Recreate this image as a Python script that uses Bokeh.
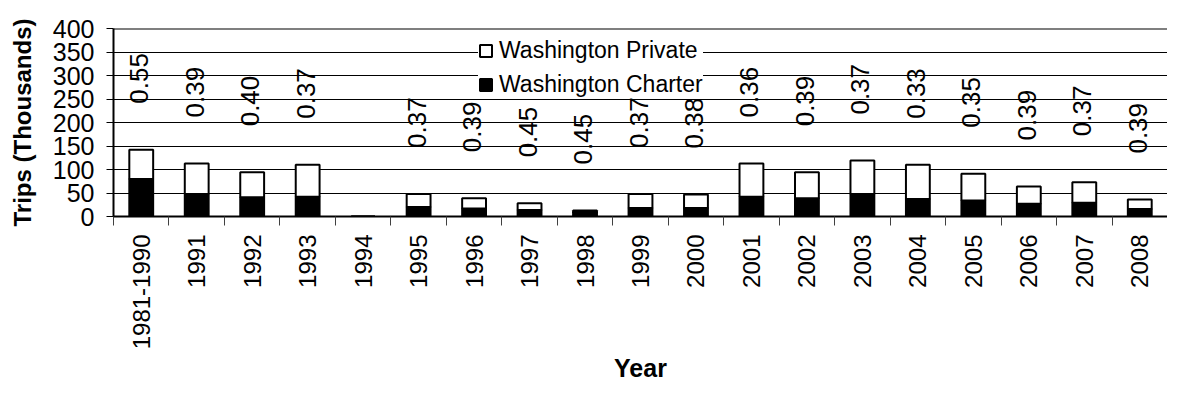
import math
from bokeh.plotting import figure
from bokeh.models import (ColumnDataSource, FixedTicker, Legend, LegendItem,
                          Range1d, Span)
from bokeh.core.properties import value
from bokeh.embed import file_html
from bokeh.resources import INLINE

# ---- data ----
years = ["1981-1990", "1991", "1992", "1993", "1994", "1995", "1996", "1997",
         "1998", "1999", "2000", "2001", "2002", "2003", "2004", "2005",
         "2006", "2007", "2008"]
charter = [80, 48, 41, 42, 0, 20, 17, 14, 9, 18, 18, 42, 39, 48, 37, 34, 27, 29, 16]
private = [62, 65, 53, 68, 0, 28, 22, 14, 4, 30, 29, 71, 55, 71, 73, 57, 37, 44, 20]
ratio = ["0.55", "0.39", "0.40", "0.37", "", "0.37", "0.39", "0.45", "0.45",
         "0.37", "0.38", "0.36", "0.39", "0.37", "0.33", "0.35", "0.39",
         "0.37", "0.39"]
y_ticks = [0, 50, 100, 150, 200, 250, 300, 350, 400]

FONT = "Liberation Sans"
n = len(years)
xs = list(range(n))
totals = [c + p for c, p in zip(charter, private)]

src = ColumnDataSource(dict(x=xs, charter=charter, private=private,
                            top=totals, ratio=ratio))

p = figure(width=1167, height=386, output_backend="svg", toolbar_location=None,
           x_range=Range1d(-0.5, n - 0.5), y_range=Range1d(0, 400),
           min_border_left=113, min_border_top=28, min_border_right=0,
           min_border_bottom=170)
p.outline_line_color = None
p.background_fill_color = "white"

# grid
p.xgrid.visible = False
p.ygrid.ticker = FixedTicker(ticks=y_ticks[1:-1])
p.ygrid.grid_line_color = "black"
p.ygrid.grid_line_width = 1

# bars
rs = p.vbar_stack(["charter", "private"], x="x", width=0.43, source=src,
                  fill_color=["black", "white"], line_color="black",
                  line_width=2)

# top border line
p.add_layout(Span(location=400, dimension="width", line_color="black",
                  line_width=2))

# ratio labels
p.text(x="x", y="top", text="ratio", source=src, angle=math.pi / 2,
       text_align="left", text_baseline="middle", y_offset=-46, x_offset=-2,
       text_font=value(FONT), text_font_size="26px", text_color="black")

# y axis
ya = p.yaxis[0]
ya.ticker = FixedTicker(ticks=y_ticks)
ya.axis_line_color = "black"
ya.axis_line_width = 2
ya.major_tick_line_color = "black"
ya.major_tick_out = 7
ya.major_tick_in = 0
ya.minor_tick_line_color = None
ya.major_label_text_font = FONT
ya.major_label_text_font_size = "25px"
ya.major_label_text_color = "black"
ya.major_label_standoff = 12
ya.axis_label = "Trips (Thousands)"
ya.axis_label_text_font = FONT
ya.axis_label_text_font_size = "24px"
ya.axis_label_text_font_style = "bold"
ya.axis_label_text_color = "black"
ya.axis_label_standoff = 14

# x axis
xa = p.xaxis[0]
xa.ticker = FixedTicker(ticks=xs, minor_ticks=[i - 0.5 for i in range(n + 1)])
xa.major_label_overrides = {i: years[i] for i in xs}
xa.major_label_orientation = math.pi / 2
xa.axis_line_color = "black"
xa.axis_line_width = 2
xa.major_tick_line_color = None
xa.major_tick_out = 9
xa.major_tick_in = 0
xa.minor_tick_line_color = "#404040"
xa.minor_tick_out = 9
xa.minor_tick_in = 0
xa.major_label_text_font = FONT
xa.major_label_text_font_size = "24px"
xa.major_label_text_color = "black"
xa.major_label_standoff = 9
xa.axis_label = "Year"
xa.axis_label_text_font = FONT
xa.axis_label_text_font_size = "25px"
xa.axis_label_text_font_style = "bold"
xa.axis_label_text_color = "black"
xa.axis_label_standoff = 2

# legend
legend = Legend(items=[LegendItem(label="Washington Private", renderers=[rs[1]]),
                       LegendItem(label="Washington Charter", renderers=[rs[0]])],
                location=(365, 118), margin=0, padding=5, spacing=7,
                glyph_width=15, glyph_height=15, label_standoff=6,
                label_text_font=FONT, label_text_font_size="23px",
                label_text_color="black", border_line_color=None,
                background_fill_color="white", background_fill_alpha=1.0)
p.add_layout(legend)

open("out.html", "w").write(file_html(p, INLINE))
